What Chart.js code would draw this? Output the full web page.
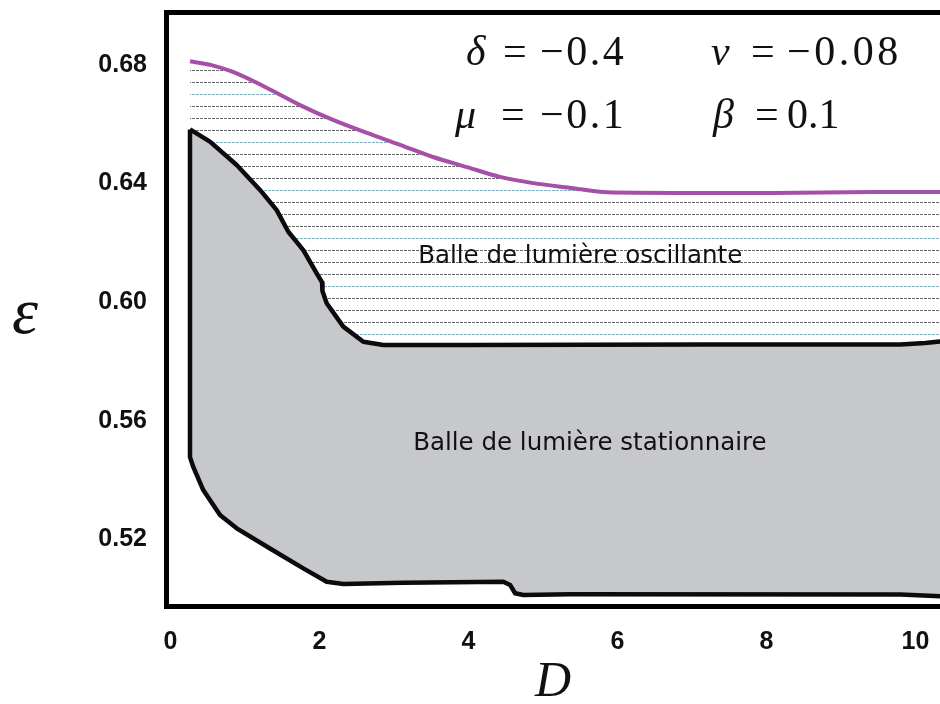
<!DOCTYPE html>
<html>
<head>
<meta charset="utf-8">
<script src="https://cdn.jsdelivr.net/npm/chart.js@4.4.0/dist/chart.umd.min.js"></script>
<style>
  html, body { margin: 0; padding: 0; background: #fff; }
  #wrap { width: 940px; height: 704px; }
</style>
</head>
<body>
<div id="wrap"><canvas id="phase-chart" width="940" height="704"></canvas></div>
<script>
// tick values
const dTicks = [0, 2, 4, 6, 8, 10];
const epsTicks = [0.52, 0.56, 0.60, 0.64, 0.68];

// purple curve (upper limit of the oscillating bullet)
const purpleD   = [0.262, 0.55, 0.839, 1.296, 1.739, 2.182, 2.639, 3.082, 3.525, 3.981, 4.424, 4.868, 5.405, 5.861, 6.75, 8.09, 9.43, 10.5];
const purpleEps = [0.6812, 0.6799, 0.6776, 0.6722, 0.6664, 0.6614, 0.6570, 0.6530, 0.6489, 0.6455, 0.6422, 0.6401, 0.6384, 0.6370, 0.6368, 0.6368, 0.6371, 0.6371];

// black boundary - top edge of the stationary region
const topD   = [0.262, 0.530, 0.889, 1.202, 1.426, 1.582, 1.783, 1.963, 2.035, 2.040, 2.097, 2.320, 2.589, 2.857, 4.02, 7.11, 9.80, 10.13, 10.33, 10.5];
const topEps = [0.6582, 0.6541, 0.6462, 0.6378, 0.6310, 0.6237, 0.6175, 0.6097, 0.6066, 0.6037, 0.5996, 0.5917, 0.5866, 0.5855, 0.5855, 0.5857, 0.5857, 0.5862, 0.5867, 0.5872];

// black boundary - bottom edge of the stationary region
const bottomD   = [0.262, 0.306, 0.440, 0.665, 0.889, 1.336, 1.783, 2.097, 2.320, 3.126, 4.469, 4.559, 4.626, 4.737, 5.365, 9.80, 10.33, 10.5];
const bottomEps = [0.5477, 0.5444, 0.5366, 0.5282, 0.5237, 0.5169, 0.5102, 0.5057, 0.5049, 0.5053, 0.5057, 0.5046, 0.5018, 0.5012, 0.5015, 0.5014, 0.5008, 0.5006];

const regionLabels = ['Balle de lumière oscillante', 'Balle de lumière stationnaire'];
const paramNames = ['δ', 'ν', 'μ', 'β'];
const paramValues = ['−0.4', '−0.08', '−0.1', '0.1'];

const toPoints = (xs, ys) => xs.map((v, i) => ({ x: v, y: ys[i] }));

const purplePts = toPoints(purpleD, purpleEps);
const topPts = toPoints(topD, topEps);
const bottomPts = toPoints(bottomD, bottomEps);
// closed outline: top edge, back along the bottom edge, up the left side
const shapePts = topPts.concat(bottomPts.slice().reverse(), [topPts[0]]);

// dotted horizontal hatching for the oscillating region
function makeHatch() {
    const c = document.createElement('canvas');
    c.width = 16;
    c.height = 48;
    const g = c.getContext('2d');
    const rows = [10, 22, 34, 46];
    rows.forEach((r, i) => {
        g.fillStyle = i === 3 ? 'rgba(90,150,170,0.75)' : 'rgba(55,55,55,0.75)';
        [[0, 3], [4, 3], [8, 3], [12, 3]].forEach(([sx, w]) => g.fillRect(sx, r, w, 1));
    });
    return g.createPattern(c, 'repeat');
}

const textPlugin = {
    id: 'textPlugin',
    afterDraw(chart) {
        const { ctx } = chart;
        const x = chart.scales.x;
        const y = chart.scales.y;
        ctx.save();
        ctx.fillStyle = '#111';
        ctx.textBaseline = 'alphabetic';
        ctx.textAlign = 'left';

        // parameter block
        const slots = [
            { sx: 466, ex: 503, vx: 540, base: 65, sp: '2.5px' },
            { sx: 711, ex: 751, vx: 787, base: 65, sp: '3.5px' },
            { sx: 455, ex: 501, vx: 540, base: 128, sp: '2.5px' },
            { sx: 713, ex: 755, vx: 787, base: 128, sp: '0px' }
        ];
        slots.forEach((s, i) => {
            ctx.font = 'italic 42px "Liberation Serif", serif';
            ctx.letterSpacing = '0px';
            ctx.fillText(paramNames[i], s.sx, s.base);
            ctx.font = '42px "Liberation Serif", serif';
            ctx.fillText('=', s.ex, s.base);
            ctx.letterSpacing = s.sp;
            ctx.fillText(paramValues[i], s.vx, s.base);
        });
        ctx.letterSpacing = '0px';

        // region names
        ctx.font = '24.5px "DejaVu Sans", sans-serif';
        ctx.textAlign = 'center';
        ctx.textBaseline = 'middle';
        ctx.fillText(regionLabels[0], x.getPixelForValue(5.50), y.getPixelForValue(0.6152));
        ctx.fillText(regionLabels[1], x.getPixelForValue(5.63), y.getPixelForValue(0.5524));

        // upright y-axis symbol
        ctx.font = 'italic 66px "Liberation Serif", serif';
        ctx.textAlign = 'left';
        ctx.textBaseline = 'alphabetic';
        ctx.fillText('ε', 12, 333);
        ctx.restore();
    }
};

const ctx = document.getElementById('phase-chart');
new Chart(ctx, {
    type: 'line',
    data: {
        datasets: [
            {
                // purple curve, hatched down to the black boundary
                data: purplePts,
                borderColor: '#a64fa6',
                borderWidth: 4,
                backgroundColor: makeHatch(),
                fill: 1,
                cubicInterpolationMode: 'monotone',
                pointRadius: 0,
                order: 1
            },
            {
                // fill target only
                data: topPts,
                borderWidth: 0,
                borderColor: 'rgba(0,0,0,0)',
                pointRadius: 0,
                fill: false,
                order: 2
            },
            {
                // stationary region
                data: shapePts,
                borderColor: '#0b0b0b',
                borderWidth: 4.5,
                borderJoinStyle: 'round',
                backgroundColor: '#c6c8cb',
                fill: 'shape',
                tension: 0,
                pointRadius: 0,
                order: 0
            }
        ]
    },
    options: {
        responsive: false,
        animation: false,
        events: [],
        layout: { padding: { top: 12, right: 0, bottom: 0, left: 0 } },
        plugins: {
            legend: { display: false },
            tooltip: { enabled: false }
        },
        scales: {
            x: {
                type: 'linear',
                position: 'bottom',
                min: -0.06,
                max: 10.33,
                z: 1,
                afterBuildTicks: (scale) => { scale.ticks = dTicks.map(v => ({ value: v })); },
                afterFit: (scale) => {
                    scale.height = 98;
                    scale.paddingLeft = 0;
                    scale.paddingRight = 0;
                },
                grid: { display: false, drawTicks: false },
                border: { display: true, color: '#000', width: 5 },
                ticks: {
                    padding: 21,
                    color: '#111',
                    font: { family: '"Liberation Sans", Arial, sans-serif', size: 25, weight: 'bold' },
                    callback: (v) => String(v),
                    maxRotation: 0
                },
                title: {
                    display: true,
                    text: 'D',
                    color: '#111',
                    font: { family: '"Liberation Serif", serif', style: 'italic', size: 50, lineHeight: 0.8 },
                    padding: { top: 0, bottom: 1 }
                }
            },
            x2: {
                type: 'linear',
                axis: 'x',
                position: 'top',
                min: -0.06,
                max: 10.33,
                z: 1,
                afterFit: (scale) => {
                    scale.height = 0;
                    scale.paddingLeft = 0;
                    scale.paddingRight = 0;
                },
                grid: { display: false, drawTicks: false },
                border: { display: true, color: '#000', width: 5 },
                ticks: { display: false }
            },
            y: {
                type: 'linear',
                position: 'left',
                min: 0.4975,
                max: 0.6978,
                z: 1,
                afterBuildTicks: (scale) => { scale.ticks = epsTicks.map(v => ({ value: v })); },
                afterFit: (scale) => {
                    scale.width = 166;
                    scale.paddingTop = 0;
                    scale.paddingBottom = 0;
                },
                grid: { display: false, drawTicks: false },
                border: { display: true, color: '#000', width: 5 },
                ticks: {
                    padding: 19,
                    color: '#111',
                    font: { family: '"Liberation Sans", Arial, sans-serif', size: 25, weight: 'bold' },
                    callback: (v) => v.toFixed(2)
                }
            }
        }
    },
    plugins: [textPlugin]
});
</script>
</body>
</html>
